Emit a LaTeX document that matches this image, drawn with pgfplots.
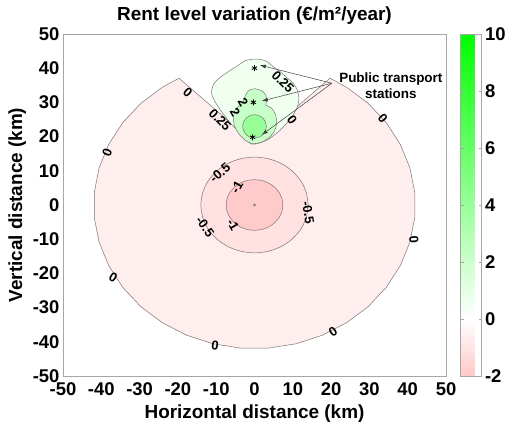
\documentclass[border=0pt]{standalone}
\usepackage{fontspec}
\setmainfont{Liberation Sans}
\usepackage{pgfplots}
\pgfplotsset{compat=1.18}
\usetikzlibrary{arrows.meta}

\definecolor{pinkA}{RGB}{255,238,238}
\definecolor{pinkB}{RGB}{255,225,225}
\definecolor{pinkC}{RGB}{255,202,202}
\definecolor{greenA}{RGB}{240,255,240}
\definecolor{greenB}{RGB}{200,255,200}
\definecolor{greenC}{RGB}{152,255,152}
\definecolor{cline}{RGB}{125,115,115}

\tikzset{
    contour/.style={draw=cline, line width=0.5bp},
    clab/.style={font=\fontsize{13}{14}\selectfont\bfseries, inner sep=0pt},
}

\begin{document}
\begin{tikzpicture}
\begin{axis}[name=a, scale only axis, width=383bp, height=342bp,
    xmin=-50, xmax=50, ymin=-50, ymax=50,
    xtick={-50,-40,...,50}, ytick={-50,-40,...,50},
    /pgf/number format/assume math mode=true,
    tick label style={font=\fontsize{18.5}{20}\selectfont\bfseries},
    xticklabel style={yshift=-3bp},
    major tick length=0pt,
    axis line style={draw=gray!70},
    xlabel={Horizontal distance (km)},
    ylabel={Vertical distance (km)},
    label style={font=\fontsize{19}{22}\selectfont\bfseries},
    xlabel style={yshift=-2bp},
    title={Rent level variation (€/m²/year)},
    title style={font=\fontsize{19}{22}\selectfont\bfseries},
    colorbar,
    colormap={rwg}{rgb255(0cm)=(255,200,200) rgb255(2cm)=(255,255,255) rgb255(12cm)=(0,255,0)},
    point meta min=-2, point meta max=10,
    colorbar style={at={(parent axis.north east)}, anchor=north west, xshift=6bp,
        width=21bp, height=342bp, scale only axis,
        ytick={-2,0,...,10},
        yticklabel style={font=\fontsize{18.5}{20}\selectfont\bfseries},
        /pgf/number format/assume math mode=true,
        axis line style={draw=gray!70}, major tick length=3bp,
        tick style={draw=gray!70}},
    clip=false, axis on top,
]

% area covered by the model (0 contour)
\addplot[contour, fill=pinkA] coordinates {
(-19.72,37.08) (-24.09,34.40) (-29.70,29.70) (-34.40,24.09) (-38.06,17.75)
(-40.57,10.87) (-41.84,3.66) (-41.84,-3.66) (-40.57,-10.87) (-38.06,-17.75)
(-34.40,-24.09) (-29.70,-29.70) (-24.09,-34.40) (-17.75,-38.06) (-10.87,-40.57)
(-3.66,-41.84) (3.66,-41.84) (10.87,-40.57) (17.75,-38.06) (24.09,-34.40)
(29.70,-29.70) (34.40,-24.09) (38.06,-17.75) (40.57,-10.87) (41.84,-3.66)
(41.84,3.66) (40.57,10.87) (38.06,17.75) (34.40,24.09) (29.70,29.70)
(24.09,34.40) (19.72,37.08) (0,18) (-19.72,37.08)};

% -0.5 contour
\addplot[contour, fill=pinkB, smooth] coordinates {
(14,0) (13.52,3.62) (12.12,7) (9.90,9.90) (7,12.12) (3.62,13.52) (0,14)
(-3.62,13.52) (-7,12.12) (-9.90,9.90) (-12.12,7) (-13.52,3.62) (-14,0)
(-13.52,-3.62) (-12.12,-7) (-9.90,-9.90) (-7,-12.12) (-3.62,-13.52) (0,-14)
(3.62,-13.52) (7,-12.12) (9.90,-9.90) (12.12,-7) (13.52,-3.62) (14,0)};

% -1 contour
\addplot[contour, fill=pinkC, smooth] coordinates {
(7.4,0) (7.15,1.92) (6.41,3.7) (5.23,5.23) (3.7,6.41) (1.92,7.15) (0,7.4)
(-1.92,7.15) (-3.7,6.41) (-5.23,5.23) (-6.41,3.7) (-7.15,1.92) (-7.4,0)
(-7.15,-1.92) (-6.41,-3.7) (-5.23,-5.23) (-3.7,-6.41) (-1.92,-7.15) (0,-7.4)
(1.92,-7.15) (3.7,-6.41) (5.23,-5.23) (6.41,-3.7) (7.15,-1.92) (7.4,0)};

% 0.25 contour around the stations
\addplot[contour, fill=greenA, smooth] coordinates {
(-2.48,42.2) (-0.73,42.6) (1.44,42.6) (3.35,41.9) (4.92,40.4) (6.66,39.0)
(8.40,37.3) (10.1,35.6) (11.2,33.6) (11.6,31.2) (11.2,28.7) (10.1,26.3)
(8.4,23.9) (6.2,21.4) (3.6,19.2) (1.0,18.0) (-0.7,17.8) (-1.6,18.5)
(-3.8,21.0) (-6.4,24.1) (-8.6,27.3) (-10.3,30.2) (-11.2,32.7) (-10.8,35.1)
(-9.0,37.3) (-6.4,39.3) (-4.2,40.9) (-2.48,42.2)};

% 2 contour
\addplot[contour, fill=greenB, smooth] coordinates {
(0.13,34.0) (1.87,33.4) (2.92,32.2) (3.18,30.5) (3.0,29.2) (4.48,28.3)
(5.5,26.3) (5.8,23.9) (5.1,21.4) (3.6,19.5) (1.4,18.2) (-0.7,18.0)
(-2.5,19.0) (-4.2,21.0) (-5.3,23.4) (-5.5,25.8) (-4.9,28.1) (-3.3,29.5)
(-2.65,31.2) (-2.0,32.8) (-1.2,33.7) (0.13,34.0)};

% 4 contour
\addplot[contour, fill=greenC, smooth] coordinates {
(3.1,23) (2.68,24.7) (1.55,25.94) (0,26.4) (-1.55,25.94) (-2.68,24.7)
(-3.1,23) (-2.68,21.3) (-1.55,20.06) (0,19.6) (1.55,20.06) (2.68,21.3) (3.1,23)};

% centre of the city
\addplot[only marks, mark=*, mark size=1.2bp, color=gray] coordinates {(0,0)};

% stations
\addplot[only marks, mark=asterisk, mark size=3bp, black, line width=0.8bp]
    coordinates {(-0.5,19.8) (-0.3,30) (0,40)};

% annotation
\draw[black!75, line width=0.5bp, -{Latex[length=6bp,width=4bp]}] (axis cs:20.2,35.6) -- (axis cs:1.4,40.9);
\draw[black!75, line width=0.5bp, -{Latex[length=6bp,width=4bp]}] (axis cs:20.2,35.6) -- (axis cs:1.9,30.4);
\draw[black!75, line width=0.5bp, -{Latex[length=6bp,width=4bp]}] (axis cs:20.2,35.6) -- (axis cs:1.9,20.5);
\node[font=\fontsize{13.5}{16}\selectfont\bfseries, align=center]
    at (axis cs:35.6,34.8) {Public transport\\stations};

% contour labels
\node[clab, rotate=-41] at (axis cs:-17.4,33.0) {0};
\node[clab, rotate=-45] at (axis cs:-9.0,24.9) {0.25};
\node[clab, rotate=-45] at (axis cs:7.4,36.0) {0.25};
\node[clab, rotate=-60] at (axis cs:-3.0,30.1) {2};
\node[clab, rotate=-60] at (axis cs:-5.1,27.2) {2};
\node[clab, rotate=-55] at (axis cs:9.8,24.9) {0};
\node[clab, rotate=70] at (axis cs:-38.5,15.2) {0};
\node[clab, rotate=-50] at (axis cs:33.5,25.4) {0};
\node[clab, rotate=-85] at (axis cs:41.6,-10.2) {0};
\node[clab, rotate=-30] at (axis cs:-36.9,-21.3) {0};
\node[clab, rotate=-8] at (axis cs:-10.3,-41.2) {0};
\node[clab, rotate=35] at (axis cs:20.5,-37.1) {0};
\node[clab, rotate=40] at (axis cs:-9.0,9.4) {-0.5};
\node[clab, rotate=-55] at (axis cs:-12.9,-6.4) {-0.5};
\node[clab, rotate=-80] at (axis cs:14.0,-2.3) {-0.5};
\node[clab, rotate=60] at (axis cs:-4.6,5.3) {-1};
\node[clab, rotate=-60] at (axis cs:-5.6,-5.8) {-1};
\end{axis}
\pgfresetboundingbox
\path ([shift={(-63bp,-51bp)}]a.south west) rectangle ([shift={(61bp,34bp)}]a.north east);
\end{tikzpicture}
\end{document}
